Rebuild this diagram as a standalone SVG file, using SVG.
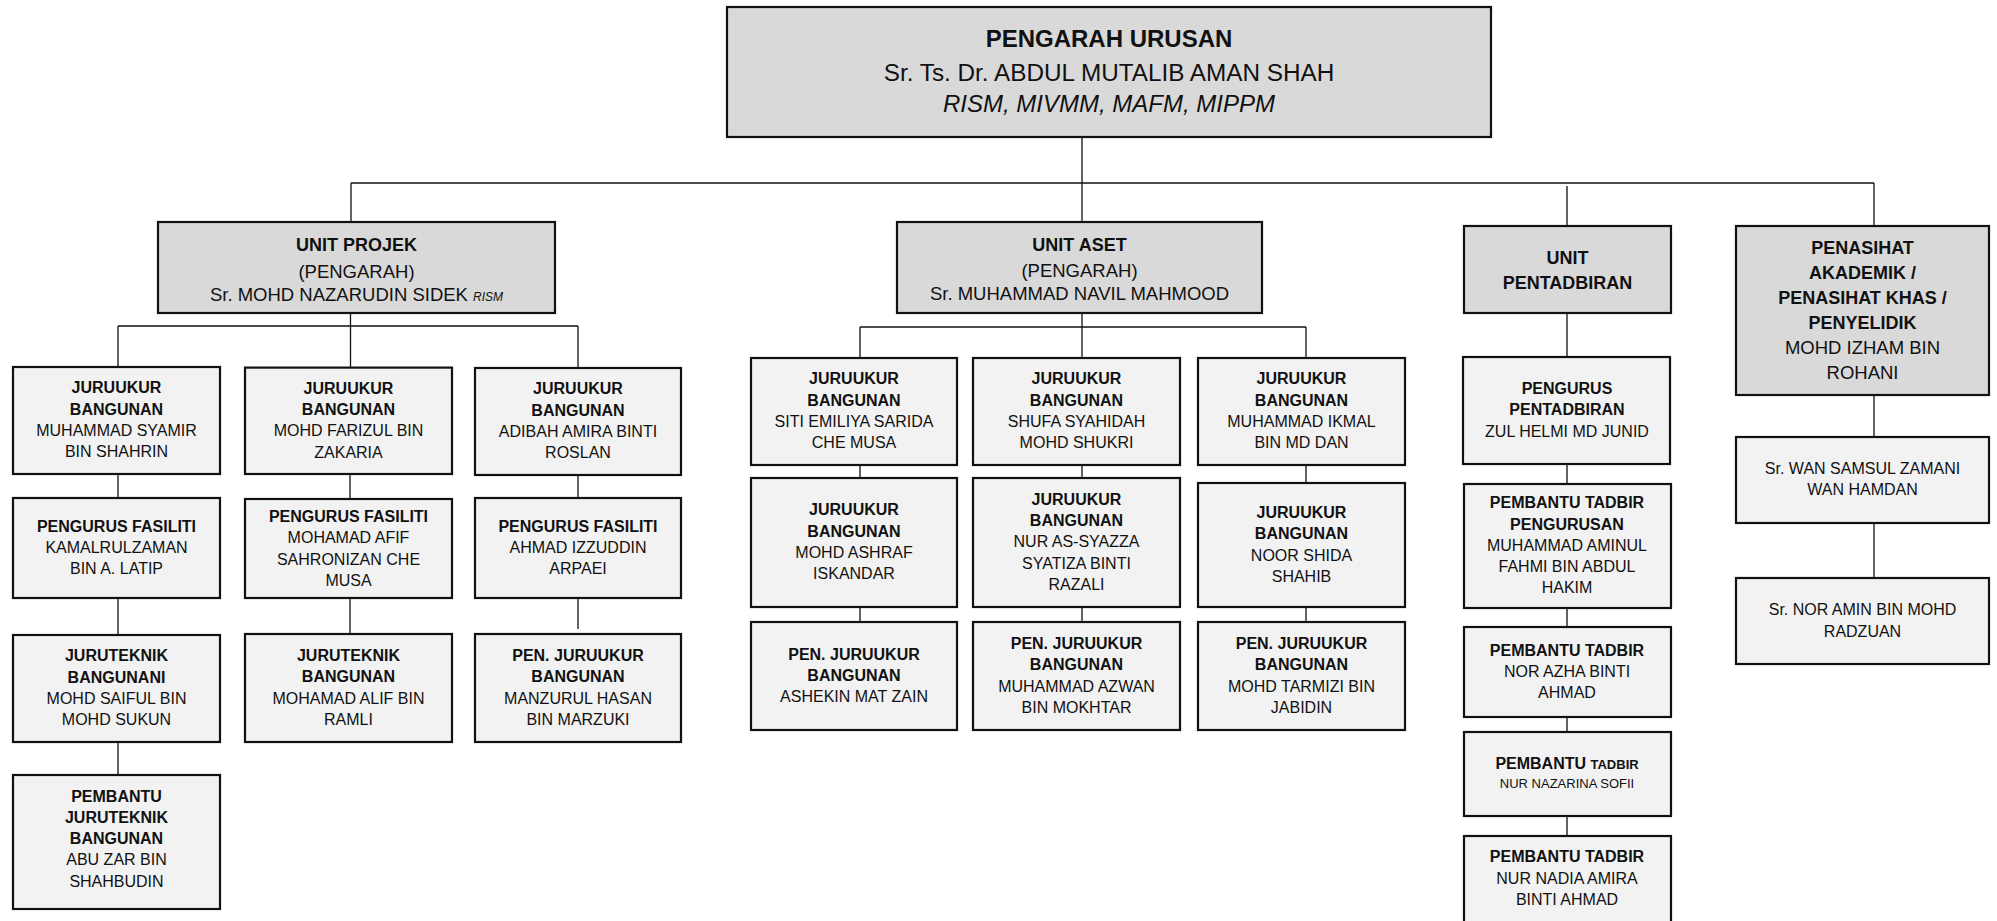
<svg xmlns="http://www.w3.org/2000/svg" width="1997" height="921" viewBox="0 0 1997 921">
<style>
text{font-family:"Liberation Sans",Arial,sans-serif;fill:#111;text-anchor:middle}
.gb{fill:#d9d9d9;stroke:#111;stroke-width:2.2}
.lb{fill:#f2f2f2;stroke:#111;stroke-width:2.2}
.c{fill:none;stroke:#111;stroke-width:1.3}
.b{font-size:16px;font-weight:bold}
.r{font-size:16px}
.hb{font-size:18px;font-weight:bold}
.hr{font-size:18.5px}
.tb{font-size:24px;font-weight:bold}
.tr{font-size:24.3px}
.ti{font-size:24px;font-style:italic}
.sb{font-size:13px;font-weight:bold}
.sr{font-size:13px}
</style>
<rect width="1997" height="921" fill="#fff"/>
<g id="connectors">
<path class="c" d="M1082 137V183M351 183H1874M351 183V222M1082 183V222M1567 186V226M1874 183V226"/>
<path class="c" d="M350.5 313V326M118 326H578M118 326V367M350.5 326V367M578 326V368"/>
<path class="c" d="M118 474V498M118 598V635M118 742V775M350 474V499M350 598V634M578 475V498M578 598V629"/>
<path class="c" d="M1082 313V327M860 327H1306M860 327V358M1082 327V358M1306 327V358"/>
<path class="c" d="M860 465V478M860 607V622M1082 465V478M1082 607V622M1306 465V483M1306 607V622"/>
<path class="c" d="M1567 313V357M1567 464V484M1567 608V627M1567 717V732M1567 816V836"/>
<path class="c" d="M1874 395V437M1874 523V578"/>
</g>
<g id="pengarah-urusan">
<rect class="gb" x="727" y="7" width="764" height="130"/>
<text class="tb" x="1109" y="47">PENGARAH URUSAN</text>
<text class="tr" x="1109" y="81">Sr. Ts. Dr. ABDUL MUTALIB AMAN SHAH</text>
<text class="ti" x="1109" y="112">RISM, MIVMM, MAFM, MIPPM</text>
</g>
<g id="unit-projek">
<rect class="gb" x="158" y="222" width="397" height="91"/>
<text class="hb" x="356.5" y="251">UNIT PROJEK</text>
<text class="hr" x="356.5" y="277.5">(PENGARAH)</text>
<text class="hr" x="356.5" y="300.5">Sr. MOHD NAZARUDIN SIDEK <tspan font-size="12" font-style="italic">RISM</tspan></text>
</g>
<g id="unit-aset">
<rect class="gb" x="897" y="222" width="365" height="91"/>
<text class="hb" x="1079.5" y="251">UNIT ASET</text>
<text class="hr" x="1079.5" y="277">(PENGARAH)</text>
<text class="hr" x="1079.5" y="299.5">Sr. MUHAMMAD NAVIL MAHMOOD</text>
</g>
<g id="unit-pentadbiran">
<rect class="gb" x="1464" y="226" width="207" height="87"/>
<text class="hb" x="1567.5" y="263.5">UNIT</text>
<text class="hb" x="1567.5" y="288.5">PENTADBIRAN</text>
</g>
<g id="penasihat">
<rect class="gb" x="1736" y="226" width="253" height="169"/>
<text class="hb" x="1862.5" y="254">PENASIHAT</text>
<text class="hb" x="1862.5" y="279">AKADEMIK /</text>
<text class="hb" x="1862.5" y="304">PENASIHAT KHAS /</text>
<text class="hb" x="1862.5" y="328.5">PENYELIDIK</text>
<text class="hr" x="1862.5" y="353.5">MOHD IZHAM BIN</text>
<text class="hr" x="1862.5" y="378.5">ROHANI</text>
</g>
<g id="p1r1">
<rect class="lb" x="13" y="367" width="207" height="107"/>
<text class="b" x="116.5" y="393.4">JURUUKUR</text>
<text class="b" x="116.5" y="414.7">BANGUNAN</text>
<text class="r" x="116.5" y="436">MUHAMMAD SYAMIR</text>
<text class="r" x="116.5" y="457.3">BIN SHAHRIN</text>
</g>
<g id="p1r2">
<rect class="lb" x="13" y="498" width="207" height="100"/>
<text class="b" x="116.5" y="531.5">PENGURUS FASILITI</text>
<text class="r" x="116.5" y="552.8">KAMALRULZAMAN</text>
<text class="r" x="116.5" y="574.1">BIN A. LATIP</text>
</g>
<g id="p1r3">
<rect class="lb" x="13" y="635" width="207" height="107"/>
<text class="b" x="116.5" y="661.4">JURUTEKNIK</text>
<text class="b" x="116.5" y="682.7">BANGUNANI</text>
<text class="r" x="116.5" y="704">MOHD SAIFUL BIN</text>
<text class="r" x="116.5" y="725.3">MOHD SUKUN</text>
</g>
<g id="p1r4">
<rect class="lb" x="13" y="775" width="207" height="134"/>
<text class="b" x="116.5" y="801.5">PEMBANTU</text>
<text class="b" x="116.5" y="822.8">JURUTEKNIK</text>
<text class="b" x="116.5" y="844.1">BANGUNAN</text>
<text class="r" x="116.5" y="865.4">ABU ZAR BIN</text>
<text class="r" x="116.5" y="886.7">SHAHBUDIN</text>
</g>
<g id="p2r1">
<rect class="lb" x="245" y="367.6" width="207" height="106.4"/>
<text class="b" x="348.5" y="393.6">JURUUKUR</text>
<text class="b" x="348.5" y="414.9">BANGUNAN</text>
<text class="r" x="348.5" y="436.2">MOHD FARIZUL BIN</text>
<text class="r" x="348.5" y="457.5">ZAKARIA</text>
</g>
<g id="p2r2">
<rect class="lb" x="245" y="499" width="207" height="99"/>
<text class="b" x="348.5" y="522">PENGURUS FASILITI</text>
<text class="r" x="348.5" y="543.3">MOHAMAD AFIF</text>
<text class="r" x="348.5" y="564.6">SAHRONIZAN CHE</text>
<text class="r" x="348.5" y="585.9">MUSA</text>
</g>
<g id="p2r3">
<rect class="lb" x="245" y="634" width="207" height="108"/>
<text class="b" x="348.5" y="660.9">JURUTEKNIK</text>
<text class="b" x="348.5" y="682.2">BANGUNAN</text>
<text class="r" x="348.5" y="703.5">MOHAMAD ALIF BIN</text>
<text class="r" x="348.5" y="724.8">RAMLI</text>
</g>
<g id="p3r1">
<rect class="lb" x="475" y="368" width="206" height="107"/>
<text class="b" x="578" y="394.4">JURUUKUR</text>
<text class="b" x="578" y="415.7">BANGUNAN</text>
<text class="r" x="578" y="437">ADIBAH AMIRA BINTI</text>
<text class="r" x="578" y="458.3">ROSLAN</text>
</g>
<g id="p3r2">
<rect class="lb" x="475" y="498" width="206" height="100"/>
<text class="b" x="578" y="531.5">PENGURUS FASILITI</text>
<text class="r" x="578" y="552.8">AHMAD IZZUDDIN</text>
<text class="r" x="578" y="574.1">ARPAEI</text>
</g>
<g id="p3r3">
<rect class="lb" x="475" y="634" width="206" height="108"/>
<text class="b" x="578" y="660.9">PEN. JURUUKUR</text>
<text class="b" x="578" y="682.2">BANGUNAN</text>
<text class="r" x="578" y="703.5">MANZURUL HASAN</text>
<text class="r" x="578" y="724.8">BIN MARZUKI</text>
</g>
<g id="a1r1">
<rect class="lb" x="751" y="358" width="206" height="107"/>
<text class="b" x="854" y="384.4">JURUUKUR</text>
<text class="b" x="854" y="405.7">BANGUNAN</text>
<text class="r" x="854" y="427">SITI EMILIYA SARIDA</text>
<text class="r" x="854" y="448.3">CHE MUSA</text>
</g>
<g id="a1r2">
<rect class="lb" x="751" y="478" width="206" height="129"/>
<text class="b" x="854" y="515.4">JURUUKUR</text>
<text class="b" x="854" y="536.7">BANGUNAN</text>
<text class="r" x="854" y="558">MOHD ASHRAF</text>
<text class="r" x="854" y="579.3">ISKANDAR</text>
</g>
<g id="a1r3">
<rect class="lb" x="751" y="622" width="206" height="108"/>
<text class="b" x="854" y="659.5">PEN. JURUUKUR</text>
<text class="b" x="854" y="680.8">BANGUNAN</text>
<text class="r" x="854" y="702.1">ASHEKIN MAT ZAIN</text>
</g>
<g id="a2r1">
<rect class="lb" x="973" y="358" width="207" height="107"/>
<text class="b" x="1076.5" y="384.4">JURUUKUR</text>
<text class="b" x="1076.5" y="405.7">BANGUNAN</text>
<text class="r" x="1076.5" y="427">SHUFA SYAHIDAH</text>
<text class="r" x="1076.5" y="448.3">MOHD SHUKRI</text>
</g>
<g id="a2r2">
<rect class="lb" x="973" y="478" width="207" height="129"/>
<text class="b" x="1076.5" y="504.7">JURUUKUR</text>
<text class="b" x="1076.5" y="526">BANGUNAN</text>
<text class="r" x="1076.5" y="547.3">NUR AS-SYAZZA</text>
<text class="r" x="1076.5" y="568.6">SYATIZA BINTI</text>
<text class="r" x="1076.5" y="589.9">RAZALI</text>
</g>
<g id="a2r3">
<rect class="lb" x="973" y="622" width="207" height="108"/>
<text class="b" x="1076.5" y="648.9">PEN. JURUUKUR</text>
<text class="b" x="1076.5" y="670.2">BANGUNAN</text>
<text class="r" x="1076.5" y="691.5">MUHAMMAD AZWAN</text>
<text class="r" x="1076.5" y="712.8">BIN MOKHTAR</text>
</g>
<g id="a3r1">
<rect class="lb" x="1198" y="358" width="207" height="107"/>
<text class="b" x="1301.5" y="384.4">JURUUKUR</text>
<text class="b" x="1301.5" y="405.7">BANGUNAN</text>
<text class="r" x="1301.5" y="427">MUHAMMAD IKMAL</text>
<text class="r" x="1301.5" y="448.3">BIN MD DAN</text>
</g>
<g id="a3r2">
<rect class="lb" x="1198" y="483" width="207" height="124"/>
<text class="b" x="1301.5" y="517.9">JURUUKUR</text>
<text class="b" x="1301.5" y="539.2">BANGUNAN</text>
<text class="r" x="1301.5" y="560.5">NOOR SHIDA</text>
<text class="r" x="1301.5" y="581.8">SHAHIB</text>
</g>
<g id="a3r3">
<rect class="lb" x="1198" y="622" width="207" height="108"/>
<text class="b" x="1301.5" y="648.9">PEN. JURUUKUR</text>
<text class="b" x="1301.5" y="670.2">BANGUNAN</text>
<text class="r" x="1301.5" y="691.5">MOHD TARMIZI BIN</text>
<text class="r" x="1301.5" y="712.8">JABIDIN</text>
</g>
<g id="t1">
<rect class="lb" x="1463" y="357" width="207" height="107"/>
<text class="b" x="1567" y="394">PENGURUS</text>
<text class="b" x="1567" y="415.3">PENTADBIRAN</text>
<text class="r" x="1567" y="436.6">ZUL HELMI MD JUNID</text>
</g>
<g id="t2">
<rect class="lb" x="1464" y="484" width="207" height="124"/>
<text class="b" x="1567" y="508.2">PEMBANTU TADBIR</text>
<text class="b" x="1567" y="529.5">PENGURUSAN</text>
<text class="r" x="1567" y="550.8">MUHAMMAD AMINUL</text>
<text class="r" x="1567" y="572.1">FAHMI BIN ABDUL</text>
<text class="r" x="1567" y="593.4">HAKIM</text>
</g>
<g id="t3">
<rect class="lb" x="1464" y="627" width="207" height="90"/>
<text class="b" x="1567" y="655.5">PEMBANTU TADBIR</text>
<text class="r" x="1567" y="676.8">NOR AZHA BINTI</text>
<text class="r" x="1567" y="698.1">AHMAD</text>
</g>
<g id="t4">
<rect class="lb" x="1464" y="732" width="207" height="84"/>
<text class="b" x="1567" y="769">PEMBANTU <tspan class="sb">TADBIR</tspan></text>
<text class="sr" x="1567" y="788">NUR NAZARINA SOFII</text>
</g>
<g id="t5">
<rect class="lb" x="1464" y="836" width="207" height="95"/>
<text class="b" x="1567" y="861.7">PEMBANTU TADBIR</text>
<text class="r" x="1567" y="883.5">NUR NADIA AMIRA</text>
<text class="r" x="1567" y="904.5">BINTI AHMAD</text>
</g>
<g id="n1">
<rect class="lb" x="1736" y="437" width="253" height="86"/>
<text class="r" x="1862.5" y="473.6">Sr. WAN SAMSUL ZAMANI</text>
<text class="r" x="1862.5" y="494.9">WAN HAMDAN</text>
</g>
<g id="n2">
<rect class="lb" x="1736" y="578" width="253" height="86"/>
<text class="r" x="1862.5" y="615.2">Sr. NOR AMIN BIN MOHD</text>
<text class="r" x="1862.5" y="636.5">RADZUAN</text>
</g>
</svg>
